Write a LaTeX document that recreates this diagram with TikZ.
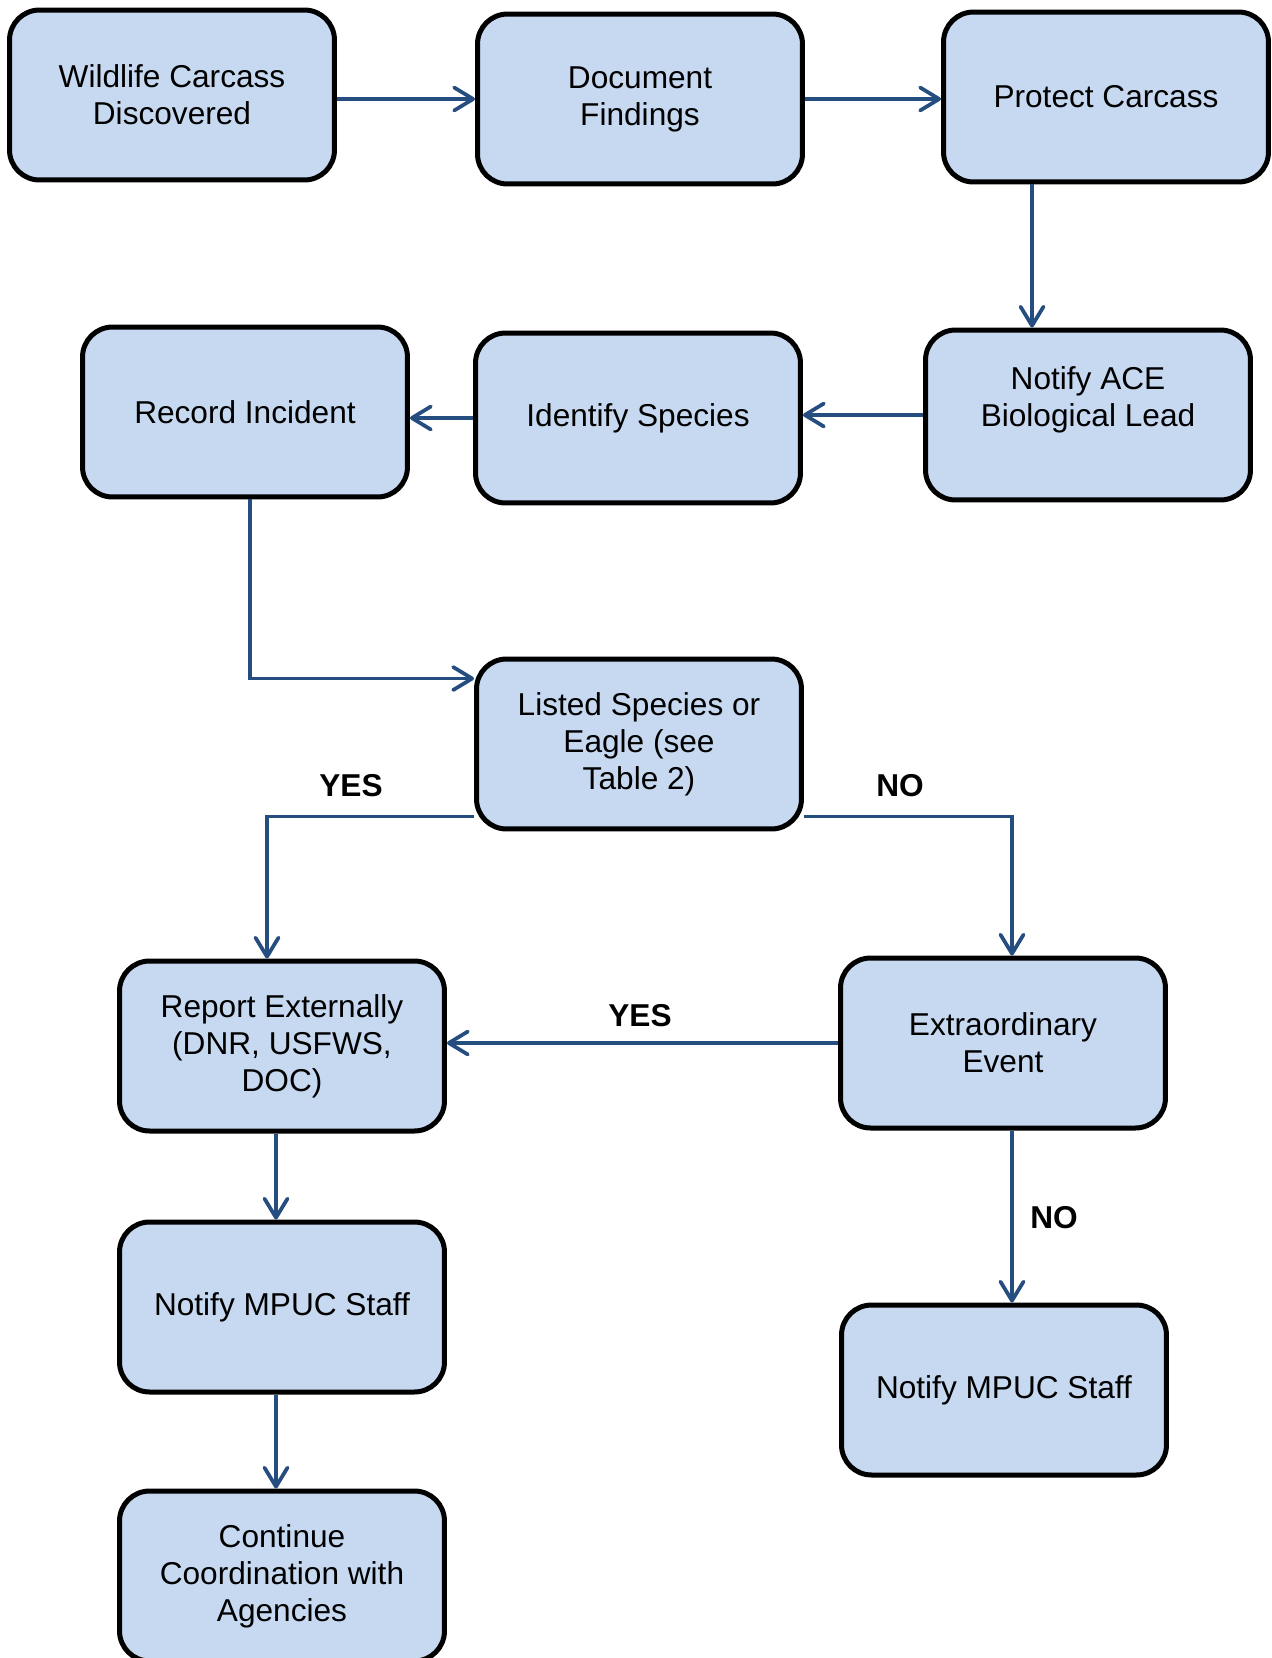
\documentclass[tikz,border=0pt]{standalone}
\usepackage{fontspec}
\setmainfont{Liberation Sans}
\usetikzlibrary{arrows.meta}
\definecolor{boxfill}{HTML}{C6D9F1}
\definecolor{flowblue}{HTML}{254D80}
\begin{document}
\begin{tikzpicture}[x=0.02cm, y=-0.02cm,
  stepbox/.style={draw, rounded corners=0.6cm, line width=0.1cm, fill=boxfill,
    minimum width=6.5cm, minimum height=3.4cm, align=center,
    font=\fontsize{18}{21}\selectfont},
  flow/.style={draw=flowblue, line width=0.075cm,
    -{Straight Barb[length=0.38cm, width=0.46cm, round]}},
  answer/.style={font=\fontsize{18}{21}\selectfont\bfseries}]
\useasboundingbox (0,0) rectangle (1272,1658);
\node[stepbox] (wild) at (172,95){Wildlife Carcass\\Discovered};
\node[stepbox] (doc) at (640,99){Document\\Findings};
\node[stepbox] (protect) at (1106,97){Protect Carcass};
\node[stepbox] (ace) at (1088,415){Notify ACE\\Biological Lead\\[-6pt]\strut};
\node[stepbox] (ident) at (638,418){Identify Species};
\node[stepbox] (record) at (245,412){Record Incident};
\node[stepbox] (listed) at (639,744){Listed Species or\\Eagle (see\\Table 2)};
\node[stepbox] (report) at (282,1046){Report Externally\\(DNR, USFWS,\\DOC)};
\node[stepbox] (extra) at (1003,1043){Extraordinary\\Event};
\node[stepbox] (mpucl) at (282,1307){Notify MPUC Staff};
\node[stepbox] (mpucr) at (1004,1390){Notify MPUC Staff};
\node[stepbox] (cont) at (282,1576){Continue\\Coordination with\\Agencies};
\draw[flow] (wild.east |- doc.west) -- (doc.west);
\draw[flow] (doc.east) -- (doc.east -| protect.west);
\draw[flow] ([xshift=-1.48cm]protect.south) -- ([xshift=-1.48cm]protect.south |- ace.north);
\draw[flow] (ace.west) -- (ace.west -| ident.east);
\draw[flow] (ident.west) -- (ident.west -| record.east);
\draw[flow] ([xshift=0.1cm]record.south) |- ([yshift=-0.44cm]listed.north west);
\draw[flow] ([yshift=0.3cm]listed.south west) -| ([xshift=-0.3cm]report.north);
\draw[flow] ([yshift=0.3cm]listed.south east) -| ([xshift=0.18cm]extra.north);
\draw[flow] (extra.west) -- (extra.west -| report.east);
\draw[flow] ([xshift=0.18cm]extra.south) -- ([xshift=0.18cm]extra.south |- mpucr.north);
\draw[flow] ([xshift=-0.12cm]report.south) -- ([xshift=-0.12cm]report.south |- mpucl.north);
\draw[flow] ([xshift=-0.12cm]mpucl.south) -- ([xshift=-0.12cm]mpucl.south |- cont.north);
\node[answer] (yesleft) at (351,786){YES};
\node[answer] (noright) at (900,786){NO};
\node[answer] (yesmid) at (640,1016){YES};
\node[answer] (nolow) at (1054,1218){NO};
\end{tikzpicture}
\end{document}
